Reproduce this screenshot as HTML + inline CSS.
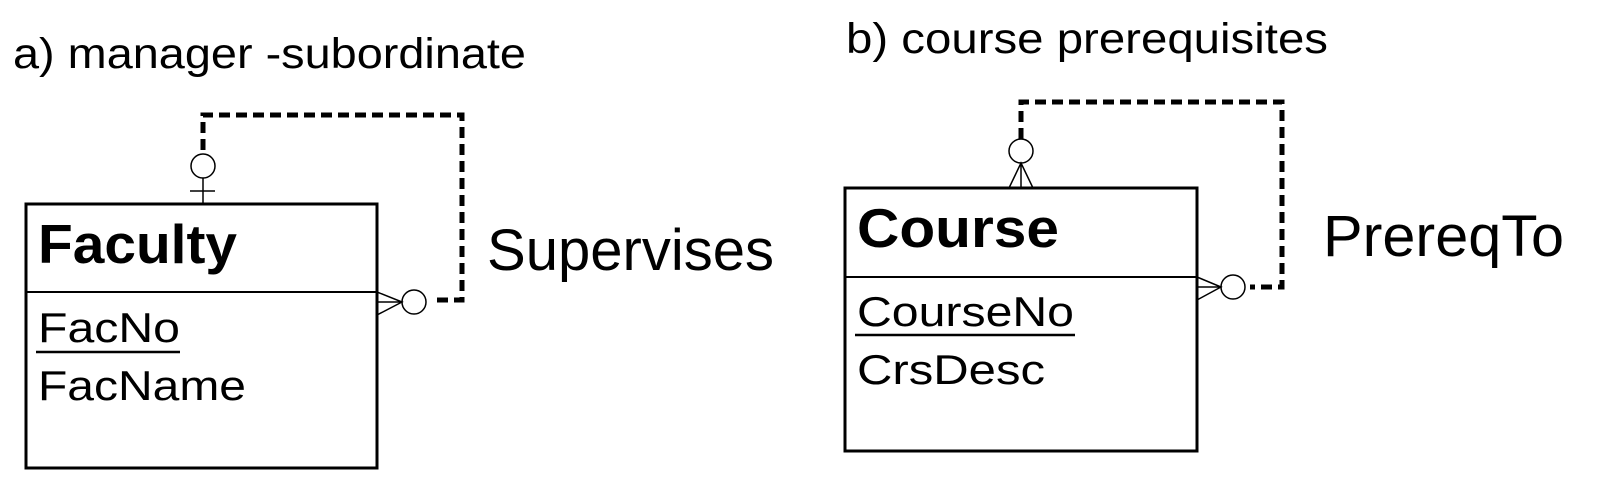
<!DOCTYPE html>
<html><head><style>body{margin:0;background:#fff}svg{display:block}</style></head><body>
<svg width="1600" height="477" xmlns="http://www.w3.org/2000/svg" font-family="Liberation Sans, Arial, sans-serif">
<rect width="1600" height="477" fill="#fff"/>
<text x="13" y="68" font-size="43" textLength="513" lengthAdjust="spacingAndGlyphs">a) manager -subordinate</text>
<text x="846" y="53" font-size="43" textLength="482" lengthAdjust="spacingAndGlyphs">b) course prerequisites</text>
<text x="487" y="270" font-size="58" textLength="287" lengthAdjust="spacingAndGlyphs">Supervises</text>
<text x="1323" y="256" font-size="58" textLength="241" lengthAdjust="spacingAndGlyphs">PrereqTo</text>
<g fill="none" stroke="#000">
<rect x="26" y="204" width="351" height="264" stroke-width="3"/>
<line x1="26" y1="292" x2="377" y2="292" stroke-width="2"/>
<path d="M203 150 V115 H462 V300 H432" stroke-width="5" stroke-dasharray="11,6"/>
<circle cx="203" cy="166" r="12" stroke-width="1.5"/>
<line x1="203" y1="178" x2="203" y2="204" stroke-width="1.5"/>
<line x1="190" y1="191" x2="215" y2="191" stroke-width="1.5"/>
<circle cx="414" cy="302" r="12" stroke-width="1.5"/>
<path d="M377 292 L402 302 L377 315 M377 302 H402" stroke-width="1.5"/>
<rect x="845" y="188" width="352" height="263" stroke-width="3"/>
<line x1="845" y1="277" x2="1197" y2="277" stroke-width="2"/>
<path d="M1021 139 V102 H1282 V287 H1250" stroke-width="5" stroke-dasharray="11,6"/>
<circle cx="1021" cy="151" r="12" stroke-width="1.5"/>
<path d="M1009 188 L1021 163 L1033 188 M1021 163 V188" stroke-width="1.5"/>
<circle cx="1233" cy="287" r="12" stroke-width="1.5"/>
<path d="M1197 277 L1221 287 L1197 300 M1197 287 H1221" stroke-width="1.5"/>
</g>
<text x="38" y="263" font-size="55" font-weight="bold" textLength="199" lengthAdjust="spacingAndGlyphs">Faculty</text>
<text x="38" y="342" font-size="42" textLength="142" lengthAdjust="spacingAndGlyphs">FacNo</text>
<line x1="36" y1="352" x2="180" y2="352" stroke="#000" stroke-width="2.5"/>
<text x="38" y="400" font-size="42" textLength="208" lengthAdjust="spacingAndGlyphs">FacName</text>
<text x="857" y="247" font-size="55" font-weight="bold" textLength="202" lengthAdjust="spacingAndGlyphs">Course</text>
<text x="857" y="326" font-size="42" textLength="217" lengthAdjust="spacingAndGlyphs">CourseNo</text>
<line x1="855" y1="335" x2="1075" y2="335" stroke="#000" stroke-width="2.5"/>
<text x="857" y="384" font-size="42" textLength="188" lengthAdjust="spacingAndGlyphs">CrsDesc</text>
</svg>
</body></html>
